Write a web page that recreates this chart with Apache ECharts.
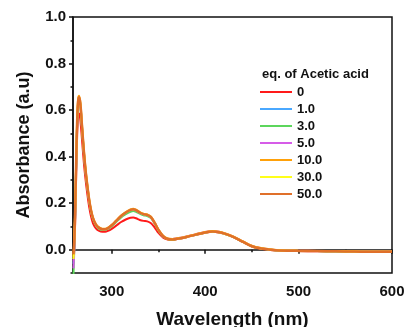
<!DOCTYPE html>
<html><head><meta charset="utf-8">
<script src="https://cdn.jsdelivr.net/npm/echarts@6/dist/echarts.min.js"></script>
<style>html,body{margin:0;padding:0;background:#fff}#c{width:405px;height:327px}</style>
</head><body><div id="c"></div>
<script>
const wavelength = [259,260,261,262,263,264,265,266,267,268,270,272,274,276,278,280,283,286,290,293,296,300,305,310,315,320,323,326,330,334,338,342,346,350,355,360,365,370,380,390,400,408,415,420,430,440,450,460,470,480,500,520,540,560,580,600];

const abs0 = [-0.05,0.01,0.15,0.34,0.50,0.57,0.585,0.57,0.53,0.48,0.38,0.30,0.235,0.18,0.14,0.112,0.092,0.082,0.077,0.077,0.081,0.090,0.104,0.119,0.130,0.137,0.138,0.135,0.128,0.124,0.122,0.114,0.095,0.072,0.052,0.044,0.043,0.046,0.054,0.064,0.073,0.077,0.074,0.069,0.054,0.034,0.014,0.004,-0.001,-0.004,-0.006,-0.007,-0.008,-0.009,-0.010,-0.010];
const abs1 = [-0.06,0.03,0.19,0.39,0.55,0.63,0.648,0.635,0.595,0.535,0.425,0.335,0.266,0.207,0.163,0.133,0.106,0.093,0.087,0.087,0.092,0.104,0.123,0.143,0.158,0.169,0.172,0.168,0.158,0.151,0.148,0.138,0.113,0.084,0.057,0.046,0.044,0.047,0.055,0.065,0.074,0.078,0.075,0.070,0.055,0.035,0.015,0.005,0.000,-0.003,-0.005,-0.006,-0.007,-0.008,-0.008,-0.009];
const abs3 = [-0.11,0.02,0.18,0.39,0.55,0.63,0.645,0.63,0.59,0.53,0.42,0.33,0.262,0.204,0.160,0.130,0.104,0.091,0.085,0.085,0.090,0.101,0.120,0.139,0.153,0.163,0.166,0.163,0.155,0.148,0.145,0.136,0.112,0.083,0.057,0.046,0.044,0.047,0.055,0.065,0.074,0.078,0.075,0.070,0.055,0.035,0.015,0.005,0.000,-0.003,-0.005,-0.006,-0.007,-0.008,-0.009,-0.009];
const abs5 = [-0.08,0.02,0.19,0.39,0.55,0.635,0.65,0.635,0.595,0.535,0.425,0.335,0.267,0.208,0.164,0.134,0.107,0.094,0.088,0.088,0.093,0.105,0.124,0.144,0.159,0.170,0.173,0.169,0.159,0.152,0.149,0.139,0.114,0.085,0.058,0.047,0.046,0.049,0.057,0.067,0.076,0.080,0.077,0.071,0.056,0.036,0.016,0.006,0.001,-0.003,-0.004,-0.005,-0.006,-0.007,-0.008,-0.008];
const abs10 = [-0.03,0.06,0.21,0.41,0.57,0.65,0.662,0.645,0.605,0.545,0.435,0.345,0.274,0.213,0.168,0.137,0.110,0.097,0.090,0.090,0.095,0.107,0.127,0.147,0.162,0.173,0.176,0.172,0.162,0.155,0.152,0.142,0.117,0.087,0.060,0.048,0.046,0.049,0.057,0.067,0.076,0.080,0.077,0.072,0.057,0.037,0.017,0.007,0.002,-0.002,-0.004,-0.005,-0.006,-0.007,-0.008,-0.008];
const abs30 = [-0.04,0.05,0.20,0.40,0.56,0.64,0.652,0.638,0.598,0.538,0.428,0.338,0.269,0.209,0.164,0.134,0.107,0.094,0.088,0.088,0.093,0.105,0.125,0.145,0.160,0.171,0.174,0.170,0.160,0.153,0.150,0.140,0.115,0.085,0.058,0.046,0.044,0.047,0.055,0.065,0.074,0.078,0.075,0.070,0.055,0.035,0.015,0.005,0.000,-0.003,-0.005,-0.006,-0.007,-0.008,-0.009,-0.009];
const abs50 = [-0.02,0.05,0.20,0.40,0.56,0.64,0.655,0.64,0.60,0.54,0.43,0.34,0.27,0.21,0.165,0.135,0.108,0.095,0.088,0.088,0.093,0.105,0.125,0.145,0.160,0.171,0.174,0.170,0.160,0.153,0.150,0.140,0.115,0.085,0.058,0.046,0.044,0.047,0.055,0.065,0.074,0.078,0.075,0.070,0.055,0.035,0.015,0.005,0.000,-0.003,-0.005,-0.006,-0.007,-0.008,-0.009,-0.009];

const seriesNames = ['0','1.0','3.0','5.0','10.0','30.0','50.0'];
const seriesData = [abs0,abs1,abs3,abs5,abs10,abs30,abs50];
const colors = ['#ff1a1a','#4aa8ff','#5cd65c','#d65ce8','#ffa10a','#ffff1a','#e0702a'];
const xLabels = [300,400,500,600];
const xMinor = [350,450,550];
const yLabels = [0,0.2,0.4,0.6,0.8,1.0];
const yMinor = [-0.1,0.1,0.3,0.5,0.7,0.9];

const FONT = 'Liberation Sans, Arial, sans-serif';
const chart = echarts.init(document.getElementById('c'), null, {renderer:'canvas'});
const axisLineStyle = {color:'#111', width:1.5};
chart.setOption({
  animation:false,
  backgroundColor:'#fff',
  grid: {left:73, right:13, top:17, bottom:54, show:true, borderColor:'#111', borderWidth:1.5,
         backgroundColor:'transparent', containLabel:false, outerBoundsMode:'none'},
  title: {text:'eq. of Acetic acid', left:262, top:68, padding:0, textStyle:{fontFamily:FONT, fontSize:13, fontWeight:'bold', color:'#111'}},
  legend: {
    data: seriesNames, orient:'vertical', left:260, top:85, padding:0,
    icon:'rect', itemWidth:32, itemHeight:2, itemGap:3,
    textStyle:{fontFamily:FONT, fontSize:13, fontWeight:'bold', color:'#111', lineHeight:14}
  },
  xAxis: [{
    type:'value', min:258.5, max:600, position:'bottom',
    axisLine:{show:true, lineStyle:axisLineStyle},
    axisTick:{show:true, customValues:xLabels, length:4, lineStyle:axisLineStyle},
    axisLabel:{customValues:xLabels, margin:11, fontFamily:FONT, fontSize:15, fontWeight:'bold', color:'#111'},
    splitLine:{show:false},
    name:'Wavelength (nm)', nameLocation:'middle', nameGap:37,
    nameTextStyle:{fontFamily:FONT, fontSize:19, fontWeight:'bold', color:'#111'}
  },{
    type:'value', min:258.5, max:600, position:'bottom',
    axisLine:{show:false},
    axisTick:{show:true, customValues:xMinor, length:2.5, lineStyle:axisLineStyle},
    axisLabel:{show:false}, splitLine:{show:false}
  }],
  yAxis: [{
    type:'value', min:-0.1, max:1.0, position:'left',
    axisLine:{show:true, lineStyle:axisLineStyle},
    axisTick:{show:true, customValues:yLabels, length:4, lineStyle:axisLineStyle},
    axisLabel:{customValues:yLabels, margin:7, formatter:v=>v.toFixed(1), fontFamily:FONT, fontSize:15, fontWeight:'bold', color:'#111'},
    splitLine:{show:false},
    name:'Absorbance (a.u)', nameLocation:'middle', nameGap:40,
    nameTextStyle:{fontFamily:FONT, fontSize:18, fontWeight:'bold', color:'#111'}
  },{
    type:'value', min:-0.1, max:1.0, position:'left',
    axisLine:{show:false},
    axisTick:{show:true, customValues:yMinor, length:2.5, lineStyle:axisLineStyle},
    axisLabel:{show:false}, splitLine:{show:false}
  }],
  series: seriesNames.map((n,i)=>({
    name:n, type:'line', xAxisIndex:0, yAxisIndex:0,
    data: wavelength.map((w,j)=>[w, seriesData[i][j]]),
    symbol:'none', smooth:0.3, clip:true,
    lineStyle:{color:colors[i], width: i===6 ? 2.5 : 2},
    itemStyle:{color:colors[i]}
  }))
});
</script></body></html>
